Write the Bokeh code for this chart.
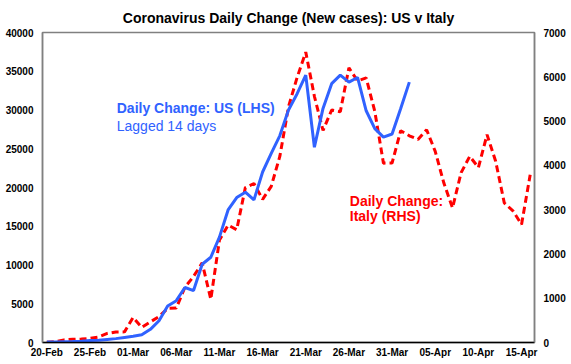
import numpy as np
import pandas as pd
from bokeh.plotting import figure
from bokeh.models import Range1d, LinearAxis, FixedTicker, Label
from bokeh.embed import file_html
from bokeh.resources import INLINE

# ---- data ----
dates = pd.date_range("2020-02-20", "2020-04-16", freq="D")  # Italy dates (categories)

italy_daily = [3, 17, 59, 71, 77, 93, 125, 205, 238, 240,
               566, 342, 466, 587, 769, 778, 1247, 1492, 1797, 977,
               2313, 2651, 2547, 3497, 3590, 3233, 3526, 4207, 5322, 5986,
               6557, 5560, 4789, 5249, 5210, 6203, 5909, 5974, 5217, 4050,
               4053, 4782, 4668, 4585, 4805, 4316, 3599, 3039, 3836, 4204,
               3951, 4694, 4092, 3153, 2972, 2667, 3786]

us_daily_lagged = [60, 70, 100, 120, 150, 250, 300, 400, 500, 650,
                   800, 1000, 1700, 2800, 4700, 5400, 7100, 6700, 10100, 11000,
                   13600, 17100, 18700, 19400, 18400, 22000, 24400, 26700, 30000, 32100,
                   34500, 25200, 30200, 33400, 34500, 33600, 34200, 29900, 27600, 26500,
                   26900, 30200, 33600]

tick_labels = ["20-Feb", "25-Feb", "01-Mar", "06-Mar", "11-Mar", "16-Mar",
               "21-Mar", "26-Mar", "31-Mar", "05-Apr", "10-Apr", "15-Apr"]

left_ticks = [0, 5000, 10000, 15000, 20000, 25000, 30000, 35000, 40000]
right_ticks = [0, 1000, 2000, 3000, 4000, 5000, 6000, 7000]

# ---- positions ----
idx = list(range(len(dates)))
x_italy = idx
x_us = idx[:len(us_daily_lagged)]
tick_pos = idx[::5][:len(tick_labels)]

FONT = "Liberation Sans"
BLUE = "#3062FF"
RED = "#FF0000"

p = figure(width=571, height=364, output_backend="svg", toolbar_location=None,
           x_range=Range1d(-0.5, len(dates) - 0.5), y_range=Range1d(0, 40000),
           min_border_left=42, min_border_right=37, min_border_top=32, min_border_bottom=22,
           title="Coronavirus Daily Change (New cases): US v Italy")
p.extra_y_ranges = {"italy": Range1d(0, 7000)}

p.title.align = "center"
p.title.text_font = FONT
p.title.text_font_size = "14px"
p.title.text_font_style = "bold"
p.title.text_color = "#000000"
p.title.standoff = 13

p.xgrid.visible = False
p.ygrid.visible = False
p.outline_line_color = "#808080"
p.outline_line_width = 1.5
p.background_fill_color = "white"
p.border_fill_color = "white"

# x axis
xa = p.xaxis[0]
xa.ticker = FixedTicker(ticks=tick_pos)
xa.major_label_overrides = {t: lab for t, lab in zip(tick_pos, tick_labels)}
xa.major_tick_out = 0
xa.major_tick_in = 0
xa.minor_tick_out = 0
xa.minor_tick_in = 0
xa.axis_line_color = "#000000"
xa.axis_line_width = 1.5
xa.major_label_standoff = 4
xa.major_label_text_font = FONT
xa.major_label_text_font_size = "10px"
xa.major_label_text_font_style = "bold"
xa.major_label_text_color = "#000000"

# left axis
ya = p.yaxis[0]
ya.ticker = FixedTicker(ticks=left_ticks)
ya.major_tick_out = 0
ya.major_tick_in = 0
ya.minor_tick_out = 0
ya.minor_tick_in = 0
ya.axis_line_color = "#808080"
ya.axis_line_width = 1.5
ya.major_label_standoff = 9
ya.major_label_text_font = FONT
ya.major_label_text_font_size = "10px"
ya.major_label_text_font_style = "bold"
ya.major_label_text_color = "#000000"

# right axis
ra = LinearAxis(y_range_name="italy", ticker=FixedTicker(ticks=right_ticks))
ra.major_tick_out = 0
ra.major_tick_in = 0
ra.minor_tick_out = 0
ra.minor_tick_in = 0
ra.axis_line_color = "#808080"
ra.axis_line_width = 1.5
ra.major_label_standoff = 9
ra.major_label_text_font = FONT
ra.major_label_text_font_size = "10px"
ra.major_label_text_font_style = "bold"
ra.major_label_text_color = "#000000"
p.add_layout(ra, "right")

# series
p.line(x_italy, italy_daily, y_range_name="italy", line_color=RED, line_width=3,
       line_dash="7 4")
p.line(x_us, us_daily_lagged, line_color=BLUE, line_width=3)

# annotations
p.add_layout(Label(x=8.1, y=30200, text="Daily Change: US (LHS)", text_font=FONT,
                   text_font_size="14px", text_font_style="bold", text_color=BLUE,
                   text_baseline="middle"))
p.add_layout(Label(x=8.1, y=28000, text="Lagged 14 days", text_font=FONT,
                   text_font_size="14px", text_color=BLUE, text_baseline="middle"))
p.add_layout(Label(x=35.1, y=18320, text="Daily Change:", text_font=FONT,
                   text_font_size="14px", text_font_style="bold", text_color=RED,
                   text_baseline="middle"))
p.add_layout(Label(x=35.1, y=16260, text="Italy (RHS)", text_font=FONT,
                   text_font_size="14px", text_font_style="bold", text_color=RED,
                   text_baseline="middle"))

open("out.html", "w").write(file_html(p, INLINE))
